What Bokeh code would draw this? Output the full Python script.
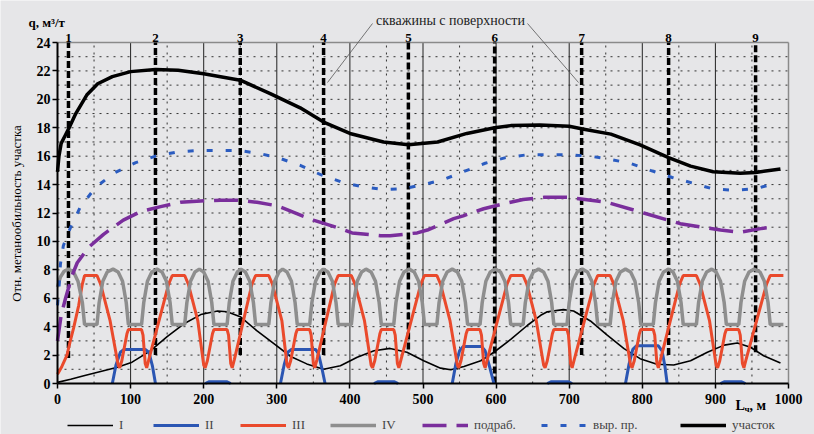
import math
from bokeh.plotting import figure
from bokeh.models import Range1d, FixedTicker, Legend, LegendItem
from bokeh.core.properties import value
from bokeh.embed import file_html
from bokeh.resources import INLINE

# ---------------- data ----------------
x_ticks = [0, 100, 200, 300, 400, 500, 600, 700, 800, 900, 1000]
y_ticks = [0, 2, 4, 6, 8, 10, 12, 14, 16, 18, 20, 22, 24]
x_grid_major = [100, 200, 300, 400, 500, 600, 700, 800, 900]
x_grid_minor = [50, 150, 250, 350, 450, 550, 650, 750, 850, 950]
y_grid = [1, 2, 3, 4, 5, 6, 7, 8, 9, 10, 11, 12, 13, 14, 15, 16, 17, 18, 19, 20, 21, 22, 23]
X_MAX, Y_MAX = 1000, 24

wells_x = [15, 134, 250, 364, 480, 598, 717, 836, 955]
wells_bottom = [1.8, 2.0, 2.0, 2.0, 2.4, 0.0, 2.0, 2.0, 2.2]
wells_names = ["1", "2", "3", "4", "5", "6", "7", "8", "9"]

sector_x = [0, 2, 5, 10, 15, 25, 40, 55, 75, 100, 134, 165, 200, 250, 291, 332, 364, 400,
            446, 480, 520, 560, 598, 620, 660, 700, 720, 757, 797, 836, 866, 897, 934, 955, 989]
sector_y = [14.9, 16.0, 16.9, 17.4, 17.9, 19.0, 20.3, 21.1, 21.6, 21.95, 22.1, 22.05, 21.8,
            21.35, 20.4, 19.4, 18.4, 17.6, 17.0, 16.8, 17.0, 17.6, 18.0, 18.15, 18.2, 18.1,
            17.9, 17.55, 16.8, 15.9, 15.3, 14.9, 14.8, 14.85, 15.1]

vyr_x = [0, 2, 4, 8, 18, 31, 52, 77, 107, 134, 164, 191, 219, 248, 275, 301, 332, 360, 390,
         417, 446, 473, 501, 528, 555, 585, 613, 643, 670, 699, 728, 754, 783, 811, 841, 869,
         896, 925, 955, 982]
vyr_y = [5.5, 6.7, 8.4, 9.7, 11.0, 12.4, 13.8, 14.8, 15.55, 16.0, 16.3, 16.4, 16.4, 16.4,
         16.2, 15.9, 15.35, 14.7, 14.15, 13.85, 13.65, 13.7, 14.0, 14.35, 14.9, 15.5, 15.9,
         16.1, 16.1, 16.1, 16.0, 15.8, 15.5, 15.0, 14.5, 14.1, 13.7, 13.6, 13.7, 14.1]

podr_x = [0, 5, 11, 20, 27, 43, 63, 90, 114, 141, 168, 196, 223, 246, 273, 301, 335, 350, 387,
          403, 442, 455, 492, 506, 542, 555, 583, 610, 637, 665, 699, 752, 802, 852, 907, 934,
          962, 975]
podr_y = [3.0, 4.8, 6.0, 7.6, 8.5, 9.6, 10.5, 11.5, 12.1, 12.45, 12.75, 12.85, 12.9, 12.9,
          12.75, 12.5, 11.8, 11.5, 10.9, 10.6, 10.4, 10.4, 10.6, 10.8, 11.6, 11.8, 12.3, 12.65,
          12.95, 13.1, 13.1, 12.75, 12.0, 11.25, 10.8, 10.65, 10.9, 11.0]

s1_x = [0, 18, 36, 82, 102, 127, 150, 173, 196, 219, 232, 250, 273, 296, 319, 341, 364, 387,
        410, 433, 455, 478, 501, 524, 538, 556, 579, 597, 620, 643, 661, 670, 692, 706, 729,
        752, 775, 797, 820, 843, 866, 889, 912, 930, 948, 966, 989]
s1_y = [0.08, 0.3, 0.55, 1.15, 1.5, 2.3, 3.3, 4.2, 4.85, 5.1, 5.05, 4.7, 3.7, 2.8, 1.9, 1.38,
        1.0, 1.25, 1.85, 2.3, 2.47, 2.2, 1.6, 1.08, 0.97, 1.2, 1.6, 2.2, 3.1, 4.1, 4.8, 5.05,
        5.2, 5.1, 4.4, 3.4, 2.45, 1.75, 1.35, 1.3, 1.6, 2.2, 2.7, 2.85, 2.55, 1.95, 1.45]

NAN = float("nan")
s2_x = [75, 80, 86, 91, 120, 125, 130, 134, NAN,
        202, 207, 232, 237, NAN,
        305, 310, 315, 320, 353, 357, 362, 366, NAN,
        433, 438, 461, 466, NAN,
        540, 545, 550, 555, 580, 585, 591, 597, NAN,
        670, 675, 699, 704, NAN,
        777, 782, 787, 792, 822, 827, 831, 834, NAN,
        907, 912, 936, 941]
s2_y = [0, 1.3, 2.2, 2.4, 2.4, 2.2, 1.2, 0, NAN,
        0.0, 0.12, 0.12, 0.0, NAN,
        0, 1.3, 2.2, 2.4, 2.4, 2.1, 1.0, 0, NAN,
        0.0, 0.12, 0.12, 0.0, NAN,
        0, 1.4, 2.3, 2.6, 2.6, 2.3, 1.2, 0, NAN,
        0.0, 0.12, 0.12, 0.0, NAN,
        0, 1.4, 2.4, 2.65, 2.65, 2.3, 1.2, 0, NAN,
        0.0, 0.12, 0.12, 0.0]

s3_x = [0, 6, 13, 17, 22, 29, 34, 37,
        54, 59, 72, 83, 85, 88, 95, 97, 115, 117, 120, 122, 125, 152, 157,
        174, 179, 192, 200, 202, 205, 212, 214, 232, 234, 237, 239, 242, 266, 271,
        289, 294, 307, 314, 316, 319, 326, 328, 345, 347, 350, 352, 355, 379, 384,
        402, 407, 420, 429, 431, 434, 441, 443, 460, 462, 465, 467, 470, 497, 502,
        519, 524, 537, 547, 549, 552, 559, 561, 578, 580, 583, 585, 588, 615, 620,
        637, 642, 655, 665, 667, 670, 677, 679, 697, 699, 702, 704, 707, 734, 739,
        756, 761, 774, 784, 786, 789, 796, 798, 815, 817, 820, 822, 825, 851, 856,
        874, 879, 892, 901, 903, 906, 913, 915, 932, 934, 937, 939, 942, 970, 975,
        993]
s3_y = [0.65, 1.2, 2.0, 2.9, 3.9, 5.5, 7.0, 7.6,
        7.6, 7.0, 4.4, 1.3, 1.1, 1.6, 3.5, 3.8, 3.8, 3.4, 1.4, 1.1, 1.7, 7.0, 7.6,
        7.6, 7.0, 4.4, 1.3, 1.1, 1.6, 3.5, 3.8, 3.8, 3.4, 1.4, 1.1, 1.7, 7.0, 7.6,
        7.6, 7.0, 4.4, 1.3, 1.1, 1.6, 3.5, 3.8, 3.8, 3.4, 1.4, 1.1, 1.7, 7.0, 7.6,
        7.6, 7.0, 4.4, 1.3, 1.1, 1.6, 3.5, 3.8, 3.8, 3.4, 1.4, 1.1, 1.7, 7.0, 7.6,
        7.6, 7.0, 4.4, 1.3, 1.1, 1.6, 3.5, 3.8, 3.8, 3.4, 1.4, 1.1, 1.7, 7.0, 7.6,
        7.6, 7.0, 4.4, 1.3, 1.1, 1.6, 3.5, 3.8, 3.8, 3.4, 1.4, 1.1, 1.7, 7.0, 7.6,
        7.6, 7.0, 4.4, 1.3, 1.1, 1.6, 3.5, 3.8, 3.8, 3.4, 1.4, 1.1, 1.7, 7.0, 7.6,
        7.6, 7.0, 4.4, 1.3, 1.1, 1.6, 3.5, 3.8, 3.8, 3.4, 1.4, 1.1, 1.7, 7.0, 7.6,
        7.6]

s4_x = [0, 4, 9, 15, 22, 28, 34, 37,
        54, 57, 62, 68, 76, 83, 89, 94, 97,
        115, 118, 123, 129, 136, 143, 149, 154, 157,
        174, 177, 182, 188, 194, 200, 206, 211, 214,
        232, 235, 240, 246, 251, 257, 263, 268, 271,
        289, 292, 297, 303, 308, 314, 320, 325, 328,
        345, 348, 353, 359, 364, 370, 376, 381, 384,
        402, 405, 410, 416, 422, 429, 435, 440, 443,
        460, 463, 468, 474, 481, 488, 494, 499, 502,
        519, 522, 527, 533, 540, 547, 553, 558, 561,
        578, 581, 586, 592, 599, 606, 612, 617, 620,
        637, 640, 645, 651, 658, 665, 671, 676, 679,
        697, 700, 705, 711, 718, 725, 731, 736, 739,
        756, 759, 764, 770, 777, 784, 790, 795, 798,
        815, 818, 823, 829, 836, 842, 848, 853, 856,
        874, 877, 882, 888, 895, 901, 907, 912, 915,
        932, 935, 940, 946, 953, 961, 967, 972, 975,
        993]
s4_y = [6.8, 7.5, 7.9, 8.05, 7.85, 7.2, 5.7, 4.15,
        4.15, 5.7, 7.2, 7.85, 8.05, 7.85, 7.2, 5.7, 4.15,
        4.15, 5.7, 7.2, 7.85, 8.05, 7.85, 7.2, 5.7, 4.15,
        4.15, 5.7, 7.2, 7.85, 8.05, 7.85, 7.2, 5.7, 4.15,
        4.15, 5.7, 7.2, 7.85, 8.05, 7.85, 7.2, 5.7, 4.15,
        4.15, 5.7, 7.2, 7.85, 8.05, 7.85, 7.2, 5.7, 4.15,
        4.15, 5.7, 7.2, 7.85, 8.05, 7.85, 7.2, 5.7, 4.15,
        4.15, 5.7, 7.2, 7.85, 8.05, 7.85, 7.2, 5.7, 4.15,
        4.15, 5.7, 7.2, 7.85, 8.05, 7.85, 7.2, 5.7, 4.15,
        4.15, 5.7, 7.2, 7.85, 8.05, 7.85, 7.2, 5.7, 4.15,
        4.15, 5.7, 7.2, 7.85, 8.05, 7.85, 7.2, 5.7, 4.15,
        4.15, 5.7, 7.2, 7.85, 8.05, 7.85, 7.2, 5.7, 4.15,
        4.15, 5.7, 7.2, 7.85, 8.05, 7.85, 7.2, 5.7, 4.15,
        4.15, 5.7, 7.2, 7.85, 8.05, 7.85, 7.2, 5.7, 4.15,
        4.15, 5.7, 7.2, 7.85, 8.05, 7.85, 7.2, 5.7, 4.15,
        4.15, 5.7, 7.2, 7.85, 8.05, 7.85, 7.2, 5.7, 4.15,
        4.15, 5.7, 7.2, 7.85, 8.05, 7.85, 7.2, 5.7, 4.15,
        4.15]

legend_names = ["I", "II", "III", "IV", "подраб.", "выр. пр.", "участок"]
y_title = "Отн. метанообильность участка"
q_title = "q, м³/т"
wells_title = "скважины с поверхности"
x_unit = ["L", "ч", ", м"]

# ---------------- geometry (page pixels) ----------------
W, H = 814, 434
X0_PX, Y0_PX = 57, 383  # page position of the origin (0, 0)
PX_X = 0.731            # px per metre
PX_Y = 341.0 / 24.0     # px per unit of q


def dx(px):   # page x -> data x
    return (px - X0_PX) / PX_X


def dy(py):   # page y -> data y
    return (Y0_PX - py) / PX_Y


SERIF = "Liberation Serif"
BG = "#e6e6e8"
p = figure(width=W, height=H, x_range=Range1d(dx(0), dx(W)), y_range=Range1d(dy(H), dy(0)),
           output_backend="svg", toolbar_location=None, title=None,
           min_border_left=0, min_border_right=0, min_border_top=0, min_border_bottom=0,
           background_fill_color=BG, border_fill_color=BG)
p.outline_line_color = None
p.xgrid.visible = False
p.ygrid.visible = False

xa = p.xaxis[0]
xa.ticker = FixedTicker(ticks=x_ticks)
xa.bounds = (0, X_MAX)
xa.fixed_location = 0
xa.major_tick_out = 5
xa.major_tick_in = 0
xa.major_label_standoff = 5
ya = p.yaxis[0]
ya.ticker = FixedTicker(ticks=y_ticks)
ya.bounds = (0, Y_MAX)
ya.fixed_location = 0
ya.major_tick_out = 5
ya.major_tick_in = 0
ya.major_label_standoff = 2
for ax in (xa, ya):
    ax.axis_line_width = 2
    ax.axis_line_color = "black"
    ax.major_tick_line_width = 1.5
    ax.minor_tick_line_color = None
    ax.major_label_text_font = SERIF
    ax.major_label_text_font_style = "bold"
    ax.major_label_text_font_size = "14px"
    ax.major_label_text_color = "black"

# grid lines inside the plot area
p.segment(x0=[0] * len(y_grid), y0=y_grid, x1=[X_MAX] * len(y_grid), y1=y_grid,
          line_color="#333333", line_width=1, line_dash="2 5")
p.segment(x0=x_grid_minor, y0=[0] * len(x_grid_minor), x1=x_grid_minor,
          y1=[Y_MAX] * len(x_grid_minor), line_color="#333333", line_width=1, line_dash="2 5")
p.segment(x0=x_grid_major, y0=[0] * len(x_grid_major), x1=x_grid_major,
          y1=[Y_MAX] * len(x_grid_major), line_color="#222222", line_width=1)
# plot-area border (top and right)
p.segment(x0=[0, X_MAX], y0=[Y_MAX, 0], x1=[X_MAX, X_MAX], y1=[Y_MAX, Y_MAX],
          line_color="#8a8a8a", line_width=1.5)

# wells (dashed verticals)
p.segment(x0=wells_x, y0=wells_bottom, x1=wells_x, y1=[Y_MAX] * len(wells_x),
          line_color="black", line_width=3.5, line_dash="7 3")

# curves
r_s1 = p.line(s1_x, s1_y, line_color="black", line_width=1.6)
r_s2 = p.line(s2_x, s2_y, line_color="#2b56b3", line_width=3)
r_s3 = p.line(s3_x, s3_y, line_color="#ea4a2c", line_width=3)
r_s4 = p.line(s4_x, s4_y, line_color="#8e8e8e", line_width=3.5)
r_podr = p.line(podr_x, podr_y, line_color="#7a2e9c", line_width=3.5, line_dash="24 10")
r_vyr = p.line(vyr_x, vyr_y, line_color="#2b5cc0", line_width=3, line_dash="6 13")
r_sec = p.line(sector_x, sector_y, line_color="black", line_width=3.5)

# texts above the plot area
p.text(x=wells_x, y=[dy(37)] * len(wells_x), text=wells_names, text_align="center",
       text_baseline="alphabetic", text_font=value(SERIF), text_font_style="bold",
       text_font_size="13px", text_color="black")
p.text(x=[dx(28)], y=[dy(22)], text=[q_title], text_align="left", text_baseline="alphabetic",
       text_font=value(SERIF), text_font_style="bold", text_font_size="13px",
       text_color="black")
p.text(x=[dx(450)], y=[dy(20)], text=[wells_title], text_align="center",
       text_baseline="alphabetic", text_font=value(SERIF), text_font_size="14px",
       text_color="#222222")
p.segment(x0=[dx(372), dx(527)], y0=[dy(23), dy(23)], x1=[dx(327), dx(578)],
          y1=[dy(82), dy(82)], line_color="#555555", line_width=0.8)
p.text(x=[dx(16)], y=[dy(213)], text=[y_title], angle=math.pi / 2, text_align="center",
       text_baseline="middle", text_font=value(SERIF), text_font_size="13px",
       text_color="black")
# x unit "L_ч, м" between the 900 and 1000 labels
p.text(x=[dx(735), dx(744), dx(749)], y=[dy(405), dy(408), dy(405)], text=x_unit,
       text_align="left", text_baseline="alphabetic", text_font=value(SERIF),
       text_font_style="bold", text_font_size=["14px", "9px", "14px"], text_color="black")

# legend entries along the bottom edge
legend_renderers = [r_s1, r_s2, r_s3, r_s4, r_podr, r_vyr, r_sec]
legend_px = [67, 153, 240, 330, 422, 541, 680]
for name, rend, px in zip(legend_names, legend_renderers, legend_px):
    lg = Legend(items=[LegendItem(label=name, renderers=[rend])], location=(px, 1),
                padding=0, margin=0, border_line_color=None, background_fill_alpha=0,
                glyph_width=46, glyph_height=14, label_standoff=6, label_height=14,
                label_text_font=SERIF, label_text_font_size="13px")
    p.add_layout(lg)

open("out.html", "w").write(file_html(p, INLINE))
